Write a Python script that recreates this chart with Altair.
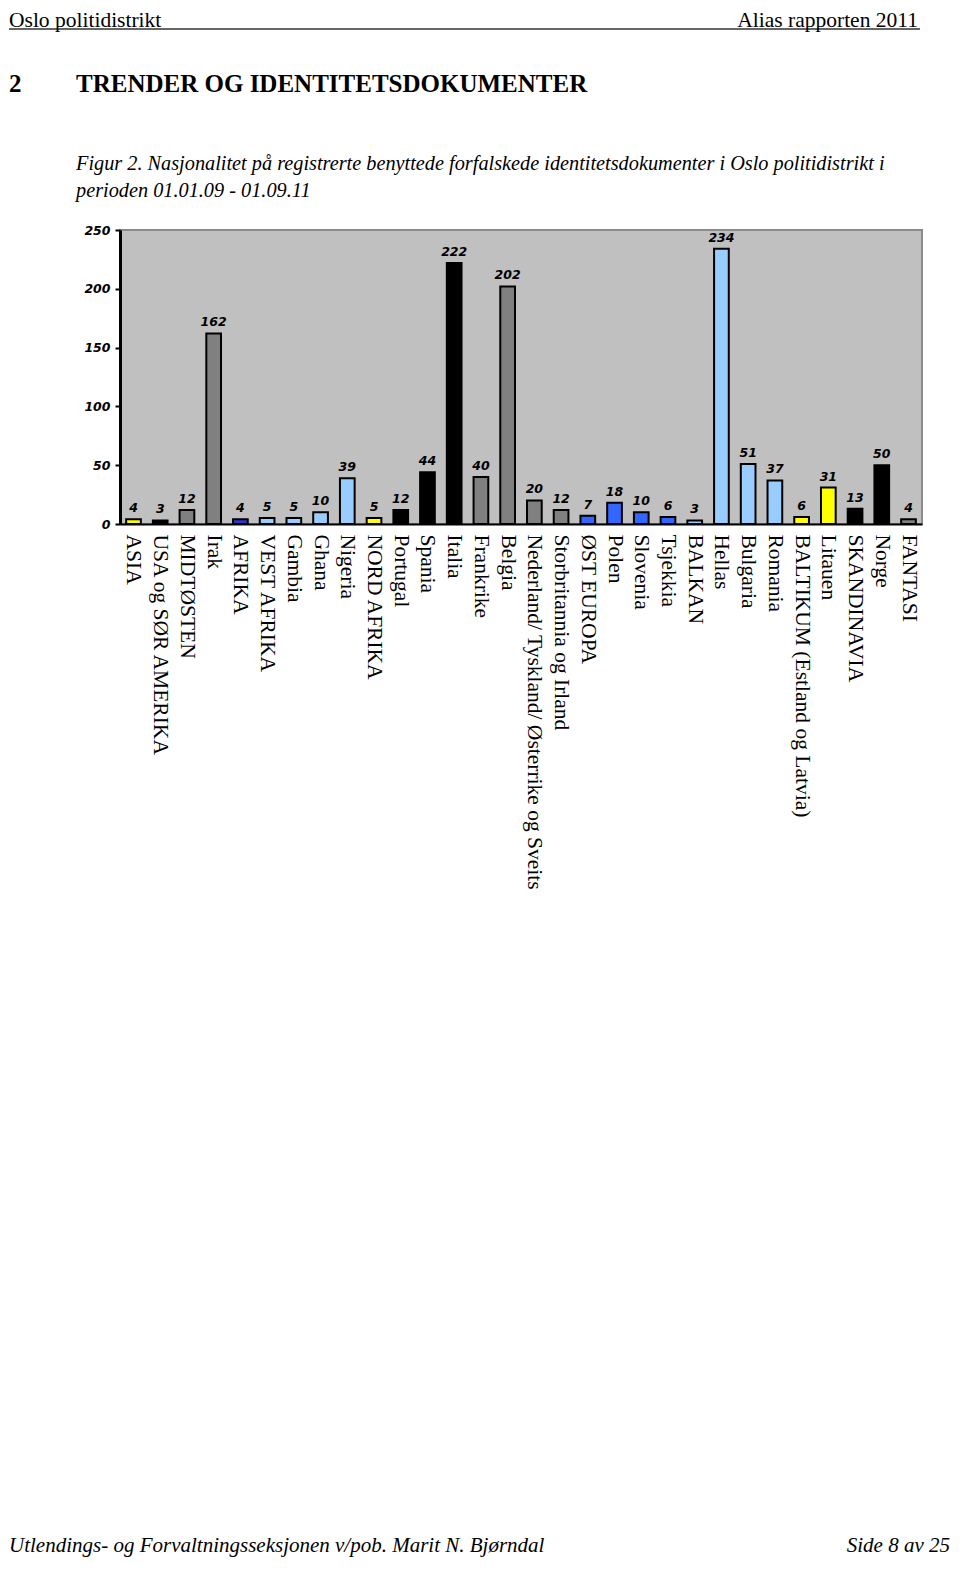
import altair as alt
import pandas as pd

categories = [
    "ASIA", "USA og SØR AMERIKA", "MIDTØSTEN", "Irak", "AFRIKA", "VEST AFRIKA",
    "Gambia", "Ghana", "Nigeria", "NORD AFRIKA", "Portugal", "Spania", "Italia",
    "Frankrike", "Belgia", "Nederland/ Tyskland/ Østerrike og Sveits",
    "Storbritannia og Irland", "ØST EUROPA", "Polen", "Slovenia", "Tsjekkia",
    "BALKAN", "Hellas", "Bulgaria", "Romania", "BALTIKUM (Estland og Latvia)",
    "Litauen", "SKANDINAVIA", "Norge", "FANTASI",
]
values = [4, 3, 12, 162, 4, 5, 5, 10, 39, 5, 12, 44, 222, 40, 202, 20, 12, 7,
          18, 10, 6, 3, 234, 51, 37, 6, 31, 13, 50, 4]
groups = ["gul", "svart", "grå", "grå", "mørkeblå", "lyseblå", "lyseblå",
          "lyseblå", "lyseblå", "gul", "svart", "svart", "svart", "grå", "grå",
          "grå", "grå", "blå", "blå", "blå", "blå", "lyseblå", "lyseblå",
          "lyseblå", "lyseblå", "gul", "gul", "svart", "svart", "grå"]
group_names = ["gul", "svart", "grå", "mørkeblå", "lyseblå", "blå"]
group_colors = ["#FFFF00", "#000000", "#808080", "#3333CC", "#99CCFF", "#3366FF"]
y_ticks = [0, 50, 100, 150, 200, 250]

header_left = "Oslo politidistrikt"
header_right = "Alias rapporten 2011"
heading_num = "2"
heading = "TRENDER OG IDENTITETSDOKUMENTER"
caption1 = "Figur 2. Nasjonalitet på registrerte benyttede forfalskede identitetsdokumenter i Oslo politidistrikt i"
caption2 = "perioden 01.01.09 - 01.09.11"
footer_left = "Utlendings- og Forvaltningsseksjonen v/pob. Marit N. Bjørndal"
footer_right = "Side 8 av 25"

df = pd.DataFrame({"kategori": categories, "antall": values, "gruppe": groups})

x_enc = alt.X(
    "kategori:N", sort=categories, title=None,
    scale=alt.Scale(paddingInner=0.45, paddingOuter=0.23),
    axis=alt.Axis(labelAngle=90, labelAlign="left", labelBaseline="middle",
                  labelFont="Liberation Serif", labelFontSize=21.5,
                  labelColor="black", labelPadding=10, labelLimit=500,
                  labelOverlap=False, ticks=False, domainColor="black",
                  domainWidth=2),
)
y_enc = alt.Y(
    "antall:Q", title=None,
    scale=alt.Scale(domain=[0, 250], nice=False),
    axis=alt.Axis(values=y_ticks, grid=False, labelFont="DejaVu Sans",
                  labelFontSize=12.5, labelFontStyle="italic",
                  labelFontWeight="bold", labelColor="black", labelPadding=5,
                  tickSize=5, tickColor="black", tickWidth=2,
                  domainColor="black", domainWidth=3),
)

base = alt.Chart(df)
bars = base.mark_bar(stroke="black", strokeWidth=2).encode(
    x=x_enc, y=y_enc,
    color=alt.Color("gruppe:N", scale=alt.Scale(domain=group_names, range=group_colors), legend=None),
)
labels = base.mark_text(font="DejaVu Sans", fontSize=12.5, fontStyle="italic",
                        fontWeight="bold", color="black", dy=-7,
                        baseline="alphabetic").encode(
    x=alt.X("kategori:N", sort=categories),
    y="antall:Q",
    text="antall:Q",
)


def page_text(txt, x, y, size, align="left", style="normal", weight="normal"):
    return alt.Chart(pd.DataFrame({"t": [txt]})).mark_text(
        font="Liberation Serif", fontSize=size, fontStyle=style,
        fontWeight=weight, align=align, baseline="alphabetic", color="black",
    ).encode(text="t:N", x=alt.value(x), y=alt.value(y))


underline = alt.Chart(pd.DataFrame({"t": [0]})).mark_rule(
    color="#333333", strokeWidth=1.5
).encode(x=alt.value(-111), x2=alt.value(800), y=alt.value(-201))

texts = [
    page_text(header_left, -111, -203, 21.5),
    page_text(header_right, 798, -203, 21.5, align="right"),
    page_text(heading_num, -111, -138, 25, weight="bold"),
    page_text(heading, -44, -138, 25, weight="bold"),
    page_text(caption1, -44, -60, 20.3, style="italic"),
    page_text(caption2, -44, -33, 20.3, style="italic"),
    page_text(footer_left, -111, 1322, 21, style="italic"),
    page_text(footer_right, 830, 1322, 21, align="right", style="italic"),
]

chart = alt.layer(bars, labels, underline, *texts).properties(
    width=802, height=294,
    autosize=alt.AutoSizeParams(type="none"),
    padding={"left": 112, "top": 222, "right": 30, "bottom": 1033},
).configure_view(fill="#C0C0C0", stroke="#8a8a8a", strokeWidth=2)

chart.save("out.html", embed_options={"renderer": "svg", "actions": False})
